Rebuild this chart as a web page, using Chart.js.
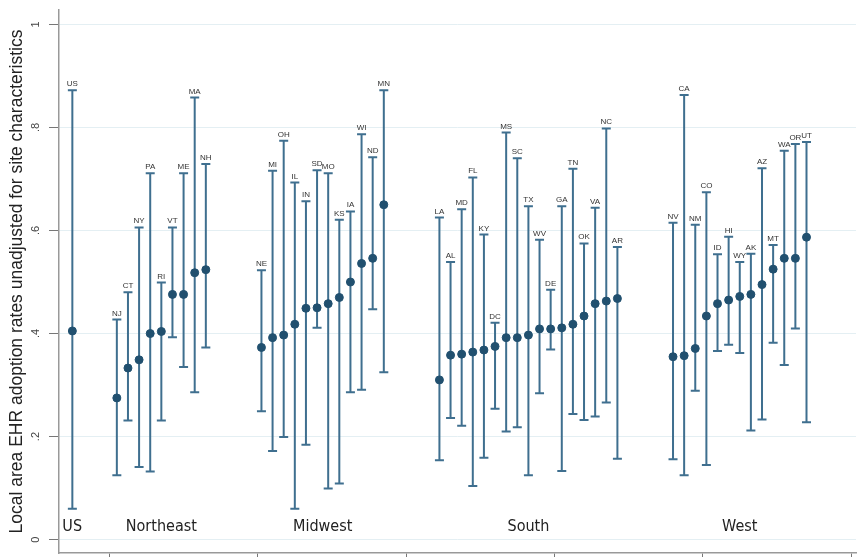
<!DOCTYPE html>
<html><head><meta charset="utf-8">
<script src="https://cdn.jsdelivr.net/npm/chart.js@4/dist/chart.umd.min.js"></script>
<style>html,body{margin:0;padding:0;background:#fff;overflow:hidden}</style>
</head><body>
<canvas id="c" width="861" height="558"></canvas>
<script>
// ---- data ----
const states = ['US',
  'NJ','CT','NY','PA','RI','VT','ME','MA','NH',
  'NE','MI','OH','IL','IN','SD','MO','KS','IA','WI','ND','MN',
  'LA','AL','MD','FL','KY','DC','MS','SC','TX','WV','DE','GA','TN','OK','VA','NC','AR',
  'NV','CA','NM','CO','ID','HI','WY','AK','AZ','MT','WA','OR','UT'];
const estimates = [0.405,
  0.275,0.333,0.349,0.400,0.404,0.476,0.476,0.518,0.524,
  0.373,0.392,0.397,0.418,0.449,0.450,0.458,0.470,0.500,0.536,0.546,0.650,
  0.310,0.358,0.360,0.364,0.368,0.375,0.392,0.392,0.397,0.409,0.409,0.411,0.418,0.434,0.458,0.463,0.468,
  0.355,0.357,0.371,0.434,0.458,0.465,0.472,0.476,0.495,0.525,0.546,0.546,0.587];
const lower = [0.060,
  0.125,0.231,0.141,0.132,0.231,0.393,0.335,0.286,0.373,
  0.249,0.172,0.199,0.060,0.184,0.411,0.099,0.109,0.286,0.291,0.447,0.325,
  0.154,0.236,0.221,0.104,0.159,0.254,0.210,0.218,0.125,0.284,0.369,0.133,0.244,0.232,0.239,0.266,0.157,
  0.156,0.125,0.289,0.145,0.366,0.378,0.362,0.212,0.233,0.382,0.339,0.410,0.228];
const upper = [0.872,
  0.427,0.480,0.606,0.711,0.499,0.606,0.711,0.858,0.729,
  0.523,0.716,0.774,0.693,0.657,0.717,0.711,0.621,0.637,0.787,0.742,0.872,
  0.625,0.539,0.641,0.703,0.592,0.421,0.790,0.740,0.647,0.582,0.485,0.647,0.720,0.575,0.644,0.798,0.568,
  0.615,0.863,0.611,0.674,0.554,0.588,0.539,0.555,0.721,0.572,0.755,0.768,0.772];
const regions = ['US','Northeast','Midwest','South','West'];
const regionSizes = [1,9,12,17,13];
const yTickValues = [0,0.2,0.4,0.6,0.8,1];
const yTickLabels = ['0','.2','.4','.6','.8','1'];
const xTickPositions = [3.35,16.68,30.01,43.35,56.68,70.01];
const yTitle = 'Local area EHR adoption rates unadjusted for site characteristics';

// ---- layout of categories on the x scale (slot units) ----
const regionGaps = [0,4,5,5,5];
const xPos = [];
const regionCenter = [];
let slot = 0;
regionSizes.forEach((n, r) => {
  if (r > 0) slot += regionGaps[r];
  const start = slot;
  for (let i = 0; i < n; i++) { xPos.push(slot); if (i < n - 1) slot++; }
  regionCenter.push((start + slot) / 2);
});

const LINE = '#3f6f8f';
const DOT = '#21506f';

const errPlugin = {
  id: 'errbars',
  beforeDatasetsDraw(chart) {
    const {ctx, scales: {x, y}} = chart;
    ctx.save();
    ctx.strokeStyle = LINE;
    ctx.lineWidth = 2;
    for (let i = 0; i < states.length; i++) {
      const px = x.getPixelForValue(xPos[i]);
      const pt = y.getPixelForValue(upper[i]);
      const pb = y.getPixelForValue(lower[i]);
      ctx.beginPath();
      ctx.moveTo(px, pt); ctx.lineTo(px, pb);
      ctx.moveTo(px - 4.5, pt); ctx.lineTo(px + 4.5, pt);
      ctx.moveTo(px - 4.5, pb); ctx.lineTo(px + 4.5, pb);
      ctx.stroke();
    }
    // state labels
    ctx.fillStyle = '#333';
    ctx.font = '8px "Liberation Sans", Arial, sans-serif';
    ctx.textAlign = 'center';
    ctx.textBaseline = 'alphabetic';
    for (let i = 0; i < states.length; i++) {
      const px = x.getPixelForValue(xPos[i]);
      const pt = y.getPixelForValue(upper[i]);
      ctx.fillText(states[i], px, pt - 4);
    }
    // region labels
    ctx.fillStyle = '#222';
    ctx.font = '16px "Liberation Sans Narrow", "DejaVu Sans Condensed", "Arial Narrow", sans-serif';
    ctx.textBaseline = 'middle';
    regions.forEach((name, r) => {
      const py = y.getPixelForValue(0.024);
      if (r === 0) {
        ctx.textAlign = 'left';
        ctx.fillText(name, x.getPixelForValue(xPos[0]) - 10, py);
      } else {
        ctx.textAlign = 'center';
        ctx.fillText(name, x.getPixelForValue(regionCenter[r]), py);
      }
    });
    ctx.restore();
  }
};

new Chart(document.getElementById('c'), {
  type: 'scatter',
  data: {
    datasets: [{
      data: states.map((s, i) => ({x: xPos[i], y: estimates[i]})),
      backgroundColor: DOT,
      borderColor: DOT,
      pointRadius: 4,
      pointHoverRadius: 4
    }]
  },
  options: {
    responsive: false,
    animation: false,
    devicePixelRatio: 1,
    layout: {padding: {top: 10, right: 0, bottom: 0, left: 0}},
    plugins: {legend: {display: false}, tooltip: {enabled: false}},
    scales: {
      x: {
        type: 'linear',
        min: -1.2, max: 70.45,
        afterBuildTicks: s => { s.ticks = xTickPositions.map(v => ({value: v})); },
        afterFit: s => { s.height = 4; s.paddingLeft = 0; s.paddingRight = 0; s.paddingTop = 0; s.paddingBottom = 0; },
        ticks: {callback: () => '', padding: 0},
        grid: {drawOnChartArea: false, drawTicks: true, tickLength: 4, color: '#777', tickWidth: 1},
        border: {color: '#999', width: 1.5}
      },
      y: {
        min: -0.026, max: 1.028,
        afterBuildTicks: s => { s.ticks = yTickValues.map(v => ({value: v})); },
        afterFit: s => { s.width = 59; s.paddingTop = 0; s.paddingBottom = 0; s.paddingLeft = 0; s.paddingRight = 0; },
        ticks: {
          callback: (v, i) => yTickLabels[i],
          minRotation: 90, maxRotation: 90,
          crossAlign: 'center',
          padding: 8,
          color: '#444',
          font: {family: '"Liberation Sans", Arial, sans-serif', size: 11}
        },
        grid: {color: '#e4eff3', lineWidth: 1, tickLength: 10, tickColor: '#777', tickWidth: 1},
        border: {color: '#999', width: 1.5},
        title: {
          display: true, text: yTitle,
          color: '#222',
          font: {family: '"Liberation Sans", Arial, sans-serif', size: 17.5},
          padding: {top: 7, bottom: 0}
        }
      }
    }
  },
  plugins: [errPlugin]
});
</script>
</body></html>
